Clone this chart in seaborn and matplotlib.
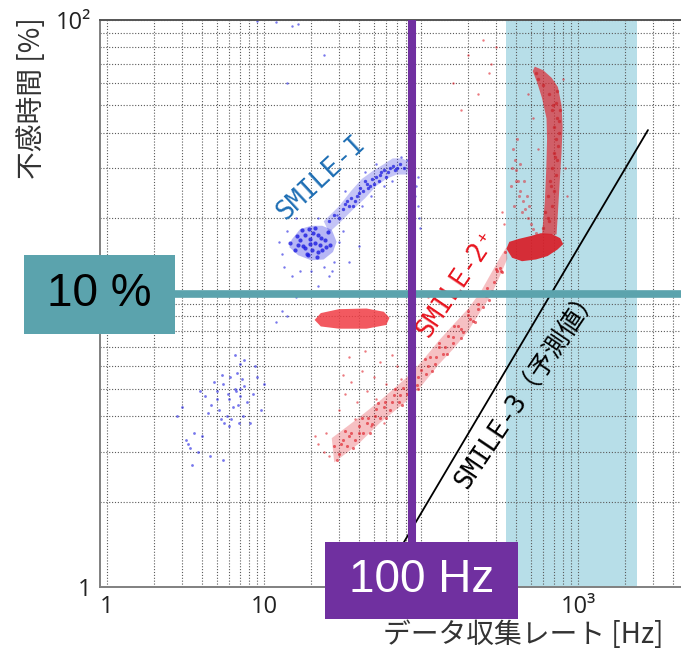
import matplotlib
matplotlib.use("Agg")
import matplotlib.pyplot as plt
import numpy as np
import pandas as pd
import seaborn as sns
from matplotlib.patches import Rectangle
from matplotlib.ticker import FixedLocator, LogLocator, NullFormatter

# ---------------- data ----------------
X_TICKS = [1, 10, 100, 1000]
X_TICK_LABELS = ["1", "10", "10²", "10³"]
Y_TICKS = [1, 10, 100]
Y_TICK_LABELS = ["1", "10", "10²"]

# SMILE-I (blue) -- scattered measurement points
SMILE1_CORE_X = [17.0, 18.2, 19.6, 21.1, 22.7, 20.2, 18.2, 16.5, 22.0, 24.4, 23.4, 19.0, 15.8, 25.4,
                 21.1, 17.5, 14.6, 26.3, 19.6, 22.0, 20.5, 23.0, 18.8, 16.2, 24.8, 21.8, 19.2, 17.8]
SMILE1_CORE_Y = [16.7, 17.4, 16.9, 16.4, 16.1, 15.5, 15.7, 16.1, 17.4, 16.7, 15.5, 14.8, 15.5, 17.9,
                 18.5, 18.2, 16.4, 16.1, 16.2, 15.2, 17.8, 17.0, 15.0, 17.3, 15.8, 14.6, 18.3, 16.0]
SMILE1_ARC_X = [26, 28, 30, 32, 33, 35, 36, 38, 40, 41, 43, 45, 47, 49, 52, 55, 58, 60, 63, 66,
                70, 74, 78, 34, 39, 44, 50, 56, 62, 68, 37, 46, 54]
SMILE1_ARC_Y = [19.5, 20.5, 20.0, 21.5, 22.5, 22.0, 23.5, 23.0, 24.5, 25.5, 25.0, 26.5, 26.0, 27.5,
                28.0, 28.5, 29.5, 28.0, 30.0, 30.5, 30.0, 31.0, 30.0, 23.0, 24.0, 27.0, 26.5, 29.0,
                29.0, 29.5, 22.0, 25.5, 27.0]
SMILE1_DUST_X = [13, 14, 13.5, 15, 28, 30, 27, 16, 12.5, 32, 20, 24, 17, 29, 22,
                 33, 42, 48, 58, 65, 75, 82, 86, 52, 44,
                 88, 92, 95, 97, 99, 93, 90, 96,
                 15, 16.5, 14, 24, 9, 12,
                 30, 22, 26, 35, 40, 18,
                 13, 14, 12, 16]
SMILE1_DUST_Y = [15, 18, 13.5, 12.5, 14, 16.5, 13, 20, 16.5, 18, 13, 13.5, 13, 20.5, 20,
                 25, 22, 24, 26, 27, 33, 32, 29, 31, 29,
                 27, 24, 22, 20, 18.5, 26, 20, 28,
                 95, 97, 60, 75, 99, 98,
                 11, 11.5, 12.5, 14, 16, 11,
                 9.4, 9.0, 8.6, 10.5]
SMILE1_LOW_X = [4.6, 5.0, 5.5, 6.0, 6.5, 7.0, 7.5, 5.2, 5.8, 6.3, 6.8, 7.3, 4.8, 5.4, 6.1, 6.7, 7.8,
                5.6, 6.2, 6.9, 5.0, 5.9, 6.6, 7.2, 4.4, 5.3, 6.0, 7.0,
                3.2, 3.6, 4.0, 3.4, 3.8, 3.0, 4.2, 8.5, 9.0, 8.2, 9.5, 7.5, 2.8, 3.3, 4.5, 5.5,
                8.8, 6.5, 7.0, 10.0, 3.5, 3.9]
SMILE1_LOW_Y = [4.4, 4.9, 5.2, 4.6, 5.0, 4.7, 5.1, 4.2, 4.0, 4.3, 4.4, 4.0, 5.3, 5.6, 5.5, 5.7, 4.5,
                3.8, 3.9, 3.8, 4.6, 4.8, 4.9, 5.4, 4.1, 3.9, 3.7, 5.0,
                3.3, 3.5, 3.4, 3.1, 3.0, 4.3, 4.7, 4.8, 5.5, 3.8, 4.2, 6.3, 4.0, 3.2, 2.9, 2.8,
                6.0, 6.6, 6.1, 5.2, 2.7, 4.9]
# SMILE-I dense regions (outlines)
SMILE1_CORE_OUTLINE_X = [15.0, 17.0, 20.0, 23.5, 27.0, 29.0, 27.5, 24.0, 20.0, 16.5, 14.5]
SMILE1_CORE_OUTLINE_Y = [16.8, 18.3, 18.8, 18.8, 18.2, 16.5, 15.2, 14.3, 14.2, 14.8, 15.8]
SMILE1_ARC_OUTLINE_X = [24, 30, 36, 42, 50, 58, 66, 76, 84, 82, 70, 60, 52, 44, 37, 31, 26]
SMILE1_ARC_OUTLINE_Y = [19.5, 22, 25, 27.5, 29.5, 31, 32.5, 32.5, 31.5, 28.5, 28.5, 27.5, 26,
                        23.5, 21.5, 19.5, 17.8]

# SMILE-2+ (red) -- scattered measurement points
SMILE2_BAND_X = [21, 23, 25, 27, 29, 31, 33, 35, 37, 39, 41, 43, 45, 47, 49, 51, 53, 55, 57, 59, 61,
                 22, 26, 30, 34, 38, 42, 46, 50, 54, 58,
                 24, 28, 32, 36, 40, 44, 48, 52, 56]
SMILE2_BAND_Y = [8.8, 8.6, 9.0, 8.4, 9.2, 8.7, 8.5, 9.3, 8.9, 8.3, 9.1, 8.7, 8.5, 9.2, 8.8, 8.6, 9.0,
                 8.7, 8.9, 8.6, 8.8,
                 9.3, 9.4, 9.4, 9.5, 9.4, 9.4, 9.3, 9.3, 9.2, 9.1,
                 8.3, 8.25, 8.2, 8.2, 8.2, 8.25, 8.3, 8.35, 8.4]
SMILE2_DIAG_X = [28, 30, 32, 34, 36, 38, 40, 43, 46, 49, 52, 55, 59, 63, 67, 72, 77, 82, 88, 94,
                 100, 107, 114, 122, 130, 139, 149, 160, 172, 185, 199, 214, 230, 247, 265, 284,
                 304, 325, 345,
                 29, 33, 37, 42, 47, 53, 60, 68, 76, 85, 95, 106, 118, 131, 146, 162, 180, 200,
                 222, 246, 272, 300, 330,
                 31, 35, 40, 45, 51, 58, 65, 74, 84, 96, 110, 125, 142, 160, 180, 205, 232, 260,
                 290, 320]
SMILE2_DIAG_Y = [3.15, 2.95, 3.3, 3.15, 3.5, 3.3, 3.7, 3.5, 3.95, 3.75, 4.25, 3.95, 4.5, 4.2, 4.75,
                 4.5, 5.05, 4.8, 5.45, 5.15, 5.85, 5.65, 6.45, 6.1, 7.0, 6.65, 7.65, 7.25, 8.3,
                 7.95, 9.1, 8.7, 9.95, 9.7, 11.3, 11.1, 13.0, 13.0, 15.2,
                 2.8, 3.55, 3.1, 3.95, 3.5, 4.45, 3.95, 5.0, 4.4, 5.55, 5.0, 6.35, 5.8, 7.25, 6.65,
                 8.3, 7.55, 9.4, 8.6, 10.8, 10.3, 13.2, 12.9,
                 3.2, 3.4, 3.5, 3.8, 4.0, 4.3, 4.5, 4.75, 5.1, 5.5, 6.0, 6.5, 7.05, 7.6, 8.15,
                 8.85, 9.6, 10.6, 11.9, 13.3]
SMILE2_DUST_X = [22, 24, 26, 25, 21, 30, 33, 36, 39, 42, 45, 50, 55, 60, 35, 38, 32, 44, 48, 70,
                 75, 65, 58, 52,
                 160, 200, 250, 280, 300, 230, 180, 270,
                 120, 140, 95, 110,
                 480, 520, 830, 850, 800, 560, 340, 330]
SMILE2_DUST_Y = [3.2, 3.0, 2.9, 3.5, 3.4, 4.2, 4.8, 5.3, 4.5, 5.8, 4.9, 5.5, 6.2, 5.2, 6.5, 3.9,
                 5.6, 6.8, 3.7, 6.0, 5.4, 6.6, 3.8, 4.6,
                 60, 75, 85, 70, 80, 55, 48, 65,
                 9.5, 11, 8.2, 10.5,
                 55, 45, 30, 24, 62, 35, 19, 21]
SMILE2_COLUMN_X = [600, 650, 620, 680, 640, 700, 660, 720, 680, 740, 700, 750, 720, 760, 700, 740,
                   680, 720, 650, 600, 560, 540, 690, 730, 760, 770, 710, 640, 670]
SMILE2_COLUMN_Y = [18.5, 19.5, 21, 22, 24, 25, 27, 28.5, 30, 32, 34, 36, 38, 40, 42, 45, 48, 51,
                   55, 59, 62, 65, 50, 56, 44, 48, 33, 20, 26]
SMILE2_BRANCH_X = [385, 395, 405, 415, 430, 445, 460, 480, 500, 520, 540,
                   380, 400, 420, 440, 470, 490, 410, 375, 390, 430, 455]
SMILE2_BRANCH_Y = [35, 32, 29.5, 27, 25, 23, 21.5, 20, 19, 18.3, 17.8,
                   30, 27, 24, 21, 24, 22, 38, 26, 22, 31, 27]
# SMILE-2+ dense regions (outlines)
SMILE2_BAND_OUTLINE_X = [21, 23, 30, 45, 58, 63, 60, 45, 30, 23]
SMILE2_BAND_OUTLINE_Y = [8.75, 9.25, 9.55, 9.6, 9.35, 8.9, 8.4, 8.15, 8.15, 8.3]
SMILE2_BLOB_OUTLINE_X = [350, 365, 420, 500, 580, 680, 770, 805, 740, 640, 540, 440, 380]
SMILE2_BLOB_OUTLINE_Y = [15.6, 16.5, 16.9, 17.3, 17.7, 17.6, 17.0, 16.2, 15.5, 14.7, 14.3, 14.1, 14.5]
SMILE2_COLUMN_OUTLINE_X = [590, 615, 628, 635, 630, 590, 550, 515, 530, 600, 680, 745, 785, 798,
                           785, 765, 745, 730]
SMILE2_COLUMN_OUTLINE_Y = [17.5, 23, 30, 38, 45, 53, 60, 66, 68.5, 66.5, 62.5, 58, 50, 42, 34,
                           27, 21, 17.5]
SMILE2_DIAG_OUTLINE_X = [27, 40, 55, 80, 100, 130, 160, 200, 240, 280, 320, 350,
                         355, 320, 280, 240, 200, 160, 130, 100, 80, 55, 40, 28]
SMILE2_DIAG_OUTLINE_Y = [3.35, 3.95, 4.55, 5.45, 6.2, 7.4, 8.4, 9.6, 11.0, 12.8, 14.6, 15.8,
                         14.4, 12.6, 10.7, 9.4, 8.0, 6.9, 6.1, 5.1, 4.5, 3.8, 3.2, 2.75]

# SMILE-3 prediction line
SMILE3_X = [55, 2790]
SMILE3_Y = [1.04, 40.9]

# target rate band and reference lines
BAND_X = [350, 2380]
REF_RATE_HZ = 87
REF_DEAD_PCT = 10.8

# ---------------- style ----------------
sns.set_theme(style="white")
plt.rcParams["font.family"] = ["Noto Sans CJK JP", "DejaVu Sans"]

W, H = 681, 654
fig = plt.figure(figsize=(W / 100, H / 100), dpi=100)
ax = fig.add_axes([100 / W, 67 / H, 581 / W, 567 / H])
ax.set_xscale("log")
ax.set_yscale("log")
ax.set_xlim(0.902, 4529)
ax.set_ylim(1, 100)

ax.axvspan(BAND_X[0], BAND_X[1], color="#B7DEE8", zorder=0.2, lw=0)

blue = "#1c1ce0"
red = "#e0202a"


def pts(xs, ys, **kw):
    df = pd.DataFrame({"x": xs, "y": ys})
    sns.scatterplot(data=df, x="x", y="y", ax=ax, linewidth=0, legend=False, **kw)


# dense regions
ax.fill(SMILE1_ARC_OUTLINE_X, SMILE1_ARC_OUTLINE_Y, color=blue, alpha=0.26, lw=0, zorder=1.5)
ax.fill(SMILE1_CORE_OUTLINE_X, SMILE1_CORE_OUTLINE_Y, color=blue, alpha=0.32, lw=0, zorder=1.5)
ax.fill(SMILE2_DIAG_OUTLINE_X, SMILE2_DIAG_OUTLINE_Y, color=red, alpha=0.28, lw=0, zorder=1.5)
ax.fill(SMILE2_BAND_OUTLINE_X, SMILE2_BAND_OUTLINE_Y, color="#f03c44", alpha=0.85, lw=0, zorder=1.5)
ax.fill(SMILE2_COLUMN_OUTLINE_X, SMILE2_COLUMN_OUTLINE_Y, color="#dc2a32", alpha=0.7, lw=0, zorder=1.5)
ax.fill(SMILE2_BLOB_OUTLINE_X, SMILE2_BLOB_OUTLINE_Y, color="#d81e28", alpha=0.92, lw=0, zorder=1.6)

# speckle points
pts(SMILE1_DUST_X, SMILE1_DUST_Y, color=blue, s=3, alpha=0.6, zorder=2)
pts(SMILE1_LOW_X, SMILE1_LOW_Y, color=blue, s=4, alpha=0.6, zorder=2)
pts(SMILE1_ARC_X, SMILE1_ARC_Y, color=blue, s=6, alpha=0.75, zorder=2)
pts(SMILE1_CORE_X, SMILE1_CORE_Y, color=blue, s=9, alpha=0.8, zorder=2)

pts(SMILE2_DUST_X, SMILE2_DUST_Y, color=red, s=3, alpha=0.6, zorder=2)
pts(SMILE2_DIAG_X, SMILE2_DIAG_Y, color=red, s=5, alpha=0.65, zorder=2)
pts(SMILE2_BRANCH_X, SMILE2_BRANCH_Y, color=red, s=5, alpha=0.5, zorder=2)
pts(SMILE2_BAND_X, SMILE2_BAND_Y, color="#ffffff", s=2, alpha=0.5, zorder=2, marker="|")
pts(SMILE2_COLUMN_X, SMILE2_COLUMN_Y, color="#c81820", s=6, alpha=0.6, zorder=2)

sns.lineplot(x=SMILE3_X, y=SMILE3_Y, ax=ax, color="black", lw=1.3, zorder=3)

# ticks / grid
ax.xaxis.set_major_locator(FixedLocator(X_TICKS))
ax.yaxis.set_major_locator(FixedLocator(Y_TICKS))
ax.xaxis.set_minor_locator(LogLocator(base=10, subs=np.arange(2, 10)))
ax.yaxis.set_minor_locator(LogLocator(base=10, subs=np.arange(2, 10)))
ax.xaxis.set_minor_formatter(NullFormatter())
ax.yaxis.set_minor_formatter(NullFormatter())
ax.set_xticks(X_TICKS, X_TICK_LABELS, fontsize=17, family=["Open Sans", "DejaVu Sans"], color="#222")
ax.set_yticks(Y_TICKS, Y_TICK_LABELS, fontsize=17, family=["Open Sans", "DejaVu Sans"], color="#222")
ax.set_xlim(0.902, 4529)
ax.set_ylim(1, 100)
ax.tick_params(which="both", direction="in", color="#666", width=1)
ax.tick_params(which="major", length=12)
ax.tick_params(which="minor", length=7)
ax.tick_params(axis="x", pad=6)
ax.tick_params(axis="y", pad=6)
ax.set_axisbelow(True)
ax.grid(True, which="both", color="#5a5a5a", linestyle=(0, (1, 1.6)), linewidth=0.8)
ax.set_xlabel("")
ax.set_ylabel("")
for side in ["left", "bottom"]:
    ax.spines[side].set_color("#808080")
    ax.spines[side].set_linewidth(1.4)
ax.spines["top"].set_color("#555555")
ax.spines["top"].set_linewidth(1.4)
ax.spines["right"].set_visible(False)

# series labels
ax.text(23.1, 27.7, "SMILE-I", color="#1e6eb4", fontsize=19, rotation=43,
        ha="center", va="center", rotation_mode="anchor",
        family=["DejaVu Sans Mono", "DejaVu Sans"], zorder=3)
ax.text(169, 11.7, "SMILE-2⁺", color="#e8141e", fontsize=18.5, rotation=56,
        ha="center", va="center", rotation_mode="anchor",
        family=["DejaVu Sans Mono", "DejaVu Sans"], zorder=3)
ax.text(481, 5.04, "SMILE-3（予測値）", color="black", fontsize=18.5, rotation=56,
        ha="center", va="center", rotation_mode="anchor",
        family=["DejaVu Sans Mono", "Noto Sans CJK JP"], zorder=3)

# reference lines
ax.axhline(REF_DEAD_PCT, color="#5ba3ad", lw=5.5, zorder=4)
ax.axvline(REF_RATE_HZ, color="#7030a0", lw=5.8, zorder=5)

# axis titles
fig.text(32 / W, 1 - 98 / H, "不感時間 [%]", rotation=90, ha="center", va="center",
         fontsize=20, color="#333")
fig.text(523 / W, 1 - 635 / H, "データ収集レート [Hz]", ha="center", va="center",
         fontsize=20, color="#333")

# call-out boxes (cover the tick labels behind them, as in the original slide)
fig.add_artist(Rectangle((24 / W, 1 - 334 / H), 151 / W, 79 / H, transform=fig.transFigure,
                         facecolor="#5ba3ad", edgecolor="none", zorder=6))
fig.text(99.5 / W, 1 - 294 / H, "10 %", ha="center", va="center", fontsize=33,
         family="Liberation Sans", color="black", zorder=7)
fig.add_artist(Rectangle((325 / W, 1 - 619 / H), 193 / W, 77 / H, transform=fig.transFigure,
                         facecolor="#7030a0", edgecolor="none", zorder=6))
fig.text(421.5 / W, 1 - 580.5 / H, "100 Hz", ha="center", va="center", fontsize=33,
         family="Liberation Sans", color="white", zorder=7)

fig.savefig("out.png", dpi=100)
